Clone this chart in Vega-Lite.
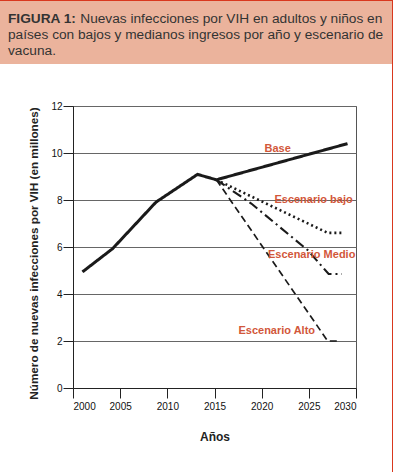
{
  "$schema": "https://vega.github.io/schema/vega-lite/v6.json",
  "padding": 0,
  "background": "white",
  "spacing": 0,
  "config": {"view": {"stroke": null}},
  "hconcat": [
    {
      "spacing": 36,
      "vconcat": [
        {
          "spacing": 0,
          "vconcat": [
            {
              "width": 392,
              "height": 1,
              "view": {"fill": "#D9381E", "stroke": null},
              "data": {"values": []},
              "mark": {"type": "point", "opacity": 0},
              "encoding": {}
            },
            {
              "width": 392,
              "height": 63,
              "view": {"fill": "#EBB39C", "stroke": null},
              "title": {
                "text": "FIGURA 1:",
                "subtitle": ["\u200b\u00a0\u00a0\u00a0\u00a0\u00a0\u00a0\u00a0\u00a0\u00a0\u00a0\u00a0\u00a0\u00a0\u00a0\u00a0\u00a0\u00a0\u00a0\u00a0Nuevas infecciones por VIH en adultos y niños en", "países con bajos y medianos ingresos por año y escenario de", "vacuna."],
                "anchor": "start",
                "orient": "top",
                "frame": "group",
                "dx": 8,
                "offset": -57,
                "font": "Liberation Sans",
                "fontSize": 13.7,
                "fontWeight": "bold",
                "color": "#333333",
                "lineHeight": 16,
                "subtitleFont": "Liberation Sans",
                "subtitleFontSize": 13.7,
                "subtitleFontWeight": "normal",
                "subtitleColor": "#333333",
                "subtitleLineHeight": 16,
                "subtitlePadding": -14
              },
              "data": {"values": []},
              "mark": {"type": "point", "opacity": 0},
              "encoding": {}
            }
          ]
        },
        {
          "spacing": 0,
          "hconcat": [
            {
              "width": 26,
              "height": 1,
              "data": {"values": []},
              "mark": {"type": "point", "opacity": 0},
              "encoding": {}
            },
            {
              "width": 283,
              "height": 282,
              "view": {"stroke": "#555555", "strokeWidth": 1},
              "layer": [
                {
                  "data": {"values": [
                    {"serie": "Base", "año": 2001.0, "valor": 4.94},
                    {"serie": "Base", "año": 2004.2, "valor": 5.93},
                    {"serie": "Base", "año": 2008.8, "valor": 7.91},
                    {"serie": "Base", "año": 2013.2, "valor": 9.09},
                    {"serie": "Base", "año": 2015.2, "valor": 8.86},
                    {"serie": "Base", "año": 2029.1, "valor": 10.4},
                    {"serie": "Escenario bajo", "año": 2015.2, "valor": 8.86},
                    {"serie": "Escenario bajo", "año": 2027.0, "valor": 6.6},
                    {"serie": "Escenario bajo", "año": 2028.6, "valor": 6.6},
                    {"serie": "Escenario Medio", "año": 2015.2, "valor": 8.86},
                    {"serie": "Escenario Medio", "año": 2018.9, "valor": 7.85},
                    {"serie": "Escenario Medio", "año": 2024.9, "valor": 5.86},
                    {"serie": "Escenario Medio", "año": 2027.1, "valor": 4.85},
                    {"serie": "Escenario Medio", "año": 2028.5, "valor": 4.85},
                    {"serie": "Escenario Alto", "año": 2015.2, "valor": 8.86},
                    {"serie": "Escenario Alto", "año": 2027.0, "valor": 2.0},
                    {"serie": "Escenario Alto", "año": 2028.3, "valor": 2.0}
                  ]},
                  "mark": {"type": "line", "color": "#1a1a1a", "strokeCap": "butt", "strokeJoin": "miter"},
                  "encoding": {
                    "x": {
                      "field": "año", "type": "quantitative",
                      "scale": {"domain": [2000, 2030], "nice": false, "zero": false},
                      "axis": {
                        "values": [2000, 2005, 2010, 2015, 2020, 2025, 2030],
                        "format": "d",
                        "grid": false,
                        "tickSize": 10,
                        "tickColor": "#222222",
                        "domainColor": "#222222",
                        "labelFont": "Liberation Sans",
                        "labelFontSize": 10,
                        "labelColor": "#111111",
                        "labelPadding": 3,
                        "title": "Años",
                        "titleFont": "Liberation Sans",
                        "titleFontSize": 12,
                        "titleFontWeight": "bold",
                        "titleColor": "#222222",
                        "titlePadding": 20
                      }
                    },
                    "y": {
                      "field": "valor", "type": "quantitative",
                      "scale": {"domain": [0, 12], "nice": false},
                      "axis": {
                        "values": [0, 2, 4, 6, 8, 10, 12],
                        "grid": true,
                        "gridColor": "#666666",
                        "gridWidth": 1,
                        "tickSize": 10,
                        "tickColor": "#222222",
                        "domainColor": "#222222",
                        "labelFont": "Liberation Sans",
                        "labelFontSize": 10,
                        "labelColor": "#111111",
                        "labelPadding": 1,
                        "minExtent": 46,
                        "title": "Número de nuevas infecciones por VIH (en millones)",
                        "titleFont": "Liberation Sans",
                        "titleFontSize": 11.7,
                        "titleFontWeight": "bold",
                        "titleColor": "#222222",
                        "titleX": -40,
                        "titleY": 147,
                        "titleBaseline": "middle"
                      }
                    },
                    "detail": {"field": "serie"},
                    "strokeDash": {
                      "field": "serie", "type": "nominal",
                      "scale": {"domain": ["Base", "Escenario bajo", "Escenario Medio", "Escenario Alto"], "range": [[1, 0], [2, 3], [10, 4, 2, 4], [7, 4]]},
                      "legend": null
                    },
                    "strokeWidth": {
                      "field": "serie", "type": "nominal",
                      "scale": {"domain": ["Base", "Escenario bajo", "Escenario Medio", "Escenario Alto"], "range": [3, 1.7, 2.5, 2.5]},
                      "legend": null
                    }
                  }
                },
                {
                  "data": {"values": [
                    {"label": "Base", "año": 2021.7, "valor": 10.19},
                    {"label": "Escenario bajo", "año": 2025.5, "valor": 7.99},
                    {"label": "Escenario Medio", "año": 2025.3, "valor": 5.65},
                    {"label": "Escenario Alto", "año": 2021.6, "valor": 2.43}
                  ]},
                  "mark": {"type": "text", "font": "Liberation Sans", "fontSize": 11, "fontWeight": "bold", "color": "#D2573A", "align": "center", "baseline": "middle"},
                  "encoding": {
                    "x": {"field": "año", "type": "quantitative"},
                    "y": {"field": "valor", "type": "quantitative"},
                    "text": {"field": "label"}
                  }
                }
              ]
            }
          ]
        }
      ]
    },
    {
      "width": 1,
      "height": 472,
      "view": {"fill": "#D9381E", "stroke": null},
      "data": {"values": []},
      "mark": {"type": "point", "opacity": 0},
      "encoding": {}
    }
  ]
}
